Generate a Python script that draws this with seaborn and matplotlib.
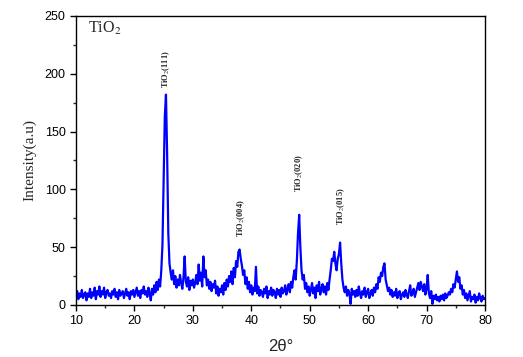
import numpy as np
import matplotlib
matplotlib.use("Agg")
import matplotlib.pyplot as plt
from matplotlib.ticker import MultipleLocator
import seaborn as sns

# 2-theta grid (degrees), 0.2 step, and intensity
two_theta = np.round(np.arange(10.0, 80.001, 0.2), 1)

intensity = [
    8, 12, 5, 10, 7, 13, 6, 9, 11, 4,          # 10-12
    10, 7, 14, 6, 11, 8, 15, 5, 12, 9,         # 12-14
    16, 7, 12, 9, 15, 6, 11, 13, 8, 10,        # 14-16
    6, 12, 9, 14, 7, 11, 5, 13, 8, 10,         # 16-18
    12, 6, 10, 14, 8, 11, 5, 12, 9, 13,        # 18-20
    7, 11, 15, 8, 12, 6, 13, 10, 16, 9,        # 20-22
    12, 7, 15, 10, 4, 14, 9, 17, 11, 20,       # 22-24
    13, 22, 16, 30, 52, 105, 163, 182, 130, 62,  # 24-26
    36, 28, 22, 30, 18, 25, 15, 22, 17, 26,    # 26-28
    19, 14, 24, 42, 20, 16, 24, 13, 21, 17,    # 28-30
    22, 15, 19, 26, 18, 35, 21, 28, 16, 42,    # 30-32
    24, 30, 17, 22, 14, 20, 12, 18, 15, 21,    # 32-34
    10, 16, 8, 14, 11, 17, 9, 19, 13, 22,      # 34-36
    16, 25, 20, 29, 18, 32, 24, 38, 33, 46,    # 36-38
    48, 40, 34, 26, 30, 18, 24, 14, 20, 11,    # 38-40
    17, 9, 15, 12, 33, 10, 16, 8, 13, 11,      # 40-42
    7, 14, 10, 16, 6, 12, 9, 15, 8, 13,        # 42-44
    11, 6, 14, 9, 13, 7, 15, 10, 12, 17,       # 44-46
    9, 14, 18, 11, 20, 15, 24, 30, 22, 38,     # 46-48
    62, 78, 50, 30, 22, 26, 14, 19, 11, 16,    # 48-50
    8, 13, 19, 10, 15, 6, 17, 12, 20, 9,       # 50-52
    14, 18, 11, 16, 9, 19, 13, 22, 30, 40,     # 52-54
    38, 46, 36, 30, 40, 44, 54, 36, 22, 15,    # 54-56
    11, 16, 8, 13, 10, 1, 14, 9, 12, 7,        # 56-58
    13, 8, 16, 10, 6, 12, 9, 15, 7, 11,        # 58-60
    14, 6, 10, 13, 8, 15, 11, 18, 14, 24,      # 60-62
    20, 28, 25, 33, 36, 22, 17, 12, 15, 9,     # 62-64
    13, 7, 11, 8, 14, 6, 10, 12, 5, 9,         # 64-66
    11, 7, 13, 9, 6, 12, 17, 8, 10, 14,        # 66-68
    7, 11, 15, 19, 13, 20, 16, 12, 18, 9,      # 68-70
    14, 26, 10, 6, 12, 1, 8, 5, 9, 4,          # 70-72
    7, 3, 8, 5, 9, 4, 10, 6, 8, 11,            # 72-74
    9, 14, 11, 18, 15, 22, 29, 20, 24, 14,     # 74-76
    17, 9, 13, 6, 10, 4, 8, 12, 3, 7,          # 76-78
    5, 9, 2, 7, 4, 10, 6, 3, 8, 5,             # 78-80
    6,
]

# peak labels: text, 2-theta, height of label foot
peak_labels = ["TiO$_2$(111)", "TiO$_2$(004)", "TiO$_2$(020)", "TiO$_2$(015)"]
peak_pos = [25.4, 38.2, 48.2, 55.4]
peak_foot = [188, 59, 98, 69]

sns.set_style("ticks")
plt.rcParams["mathtext.fontset"] = "stix"

fig = plt.figure(figsize=(5.23, 3.57), dpi=100)
ax = fig.add_axes([0.1453, 0.1457, 0.782, 0.8095])

sns.lineplot(x=two_theta, y=intensity, color="#0000ff", linewidth=1.6, ax=ax)

ax.set_xlim(10, 80)
ax.set_ylim(0, 250)
ax.xaxis.set_major_locator(MultipleLocator(10))
ax.xaxis.set_minor_locator(MultipleLocator(5))
ax.yaxis.set_major_locator(MultipleLocator(50))
ax.yaxis.set_minor_locator(MultipleLocator(25))
ax.tick_params(which="major", direction="out", length=4, width=1,
               labelsize=9, colors="black")
ax.tick_params(which="minor", direction="out", length=2.5, width=1)
for lab in ax.get_xticklabels() + ax.get_yticklabels():
    lab.set_family("Liberation Sans")
for s in ax.spines.values():
    s.set_linewidth(1.0)
    s.set_color("black")

ax.set_xlabel("2θ°", family="Liberation Sans", fontsize=12, labelpad=8)
ax.set_ylabel("Intensity(a.u)", family="Liberation Serif", fontsize=11,
              labelpad=6)

ax.text(12.0, 235, "TiO$_2$", family="Liberation Serif", fontsize=11.5,
        ha="left", va="baseline")

for lab, xp, yp in zip(peak_labels, peak_pos, peak_foot):
    ax.text(xp, yp, lab, rotation=90, fontsize=6, fontweight="bold",
            family="Liberation Serif", ha="center", va="bottom")

plt.savefig("out.png", dpi=100)
plt.close()
